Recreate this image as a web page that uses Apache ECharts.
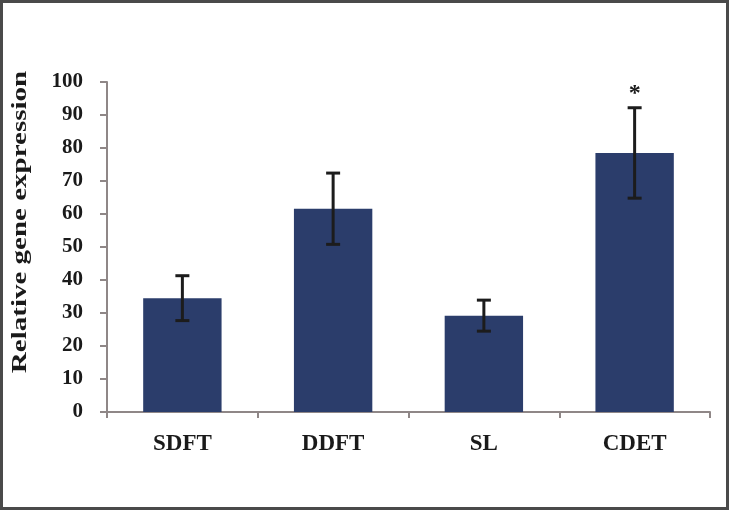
<!DOCTYPE html>
<html>
<head>
<meta charset="utf-8">
<script src="https://cdn.jsdelivr.net/npm/echarts@6/dist/echarts.min.js"></script>
<style>
  html, body { margin: 0; padding: 0; background: #ffffff; }
  #wrap { position: relative; width: 729px; height: 510px; }
  #chart { width: 729px; height: 510px; }
  #frame { position: absolute; left: 0; top: 0; width: 729px; height: 510px; box-sizing: border-box;
           border: 3px solid #4a4a4a; pointer-events: none; }
</style>
</head>
<body>
<div id="wrap"><div id="chart"></div><div id="frame"></div></div>
<script>
const categories = ['SDFT', 'DDFT', 'SL', 'CDET'];
const means = [34.5, 61.6, 29.2, 78.5];
const errors = [6.8, 10.8, 4.7, 13.7];
const marks = ['', '', '', '*'];
const yMin = 0, yMax = 100, yStep = 10;
const yTitle = 'Relative gene expression';

const serif = '"Liberation Serif", "Times New Roman", serif';
const chart = echarts.init(document.getElementById('chart'));
const errData = categories.map((c, i) => [i, means[i], errors[i]]);

chart.setOption({
  backgroundColor: '#ffffff',
  animation: false,
  grid: { left: 107, right: 19, top: 82, bottom: 98 },
  xAxis: {
    type: 'category',
    data: categories,
    axisLine: { lineStyle: { color: '#8f8787', width: 2 } },
    axisTick: { show: true, length: 6, lineStyle: { color: '#8f8787', width: 2 } },
    axisLabel: { margin: 21, color: '#1a1a1a', fontFamily: serif, fontWeight: 'bold', fontSize: 23 }
  },
  yAxis: {
    type: 'value',
    min: yMin, max: yMax, interval: yStep,
    splitLine: { show: false },
    axisLine: { show: true, lineStyle: { color: '#8f8787', width: 2 } },
    axisTick: { show: true, length: 7, lineStyle: { color: '#8f8787', width: 2 } },
    axisLabel: { margin: 24, color: '#1a1a1a', fontFamily: serif, fontWeight: 'bold', fontSize: 21 }
  },
  graphic: [{
    type: 'text',
    x: 21, y: 222,
    rotation: Math.PI / 2,
    scaleX: 1.45,
    style: {
      text: yTitle,
      font: 'bold 20px ' + serif,
      fill: '#1a1a1a',
      textAlign: 'center',
      textVerticalAlign: 'middle'
    }
  }],
  series: [
    {
      type: 'bar',
      data: means,
      barWidth: '52%',
      itemStyle: { color: '#2b3d6b' }
    },
    {
      type: 'custom',
      data: errData,
      z: 10,
      renderItem: function (params, api) {
        const i = api.value(0);
        const m = api.value(1);
        const e = api.value(2);
        const top = api.coord([i, m + e]);
        const bot = api.coord([i, m - e]);
        const half = 7;
        const ls = { stroke: '#1c1c1c', lineWidth: 3 };
        const children = [
          { type: 'line', shape: { x1: top[0], y1: top[1], x2: bot[0], y2: bot[1] }, style: ls },
          { type: 'line', shape: { x1: top[0] - half, y1: top[1], x2: top[0] + half, y2: top[1] }, style: ls },
          { type: 'line', shape: { x1: bot[0] - half, y1: bot[1], x2: bot[0] + half, y2: bot[1] }, style: ls }
        ];
        const mk = marks[params.dataIndex];
        if (mk) {
          children.push({
            type: 'text',
            style: {
              text: mk, x: top[0], y: top[1] - 14,
              font: 'bold 24px ' + serif, fill: '#1a1a1a',
              textAlign: 'center', textVerticalAlign: 'middle'
            }
          });
        }
        return { type: 'group', children: children };
      }
    }
  ]
});
</script>
</body>
</html>
